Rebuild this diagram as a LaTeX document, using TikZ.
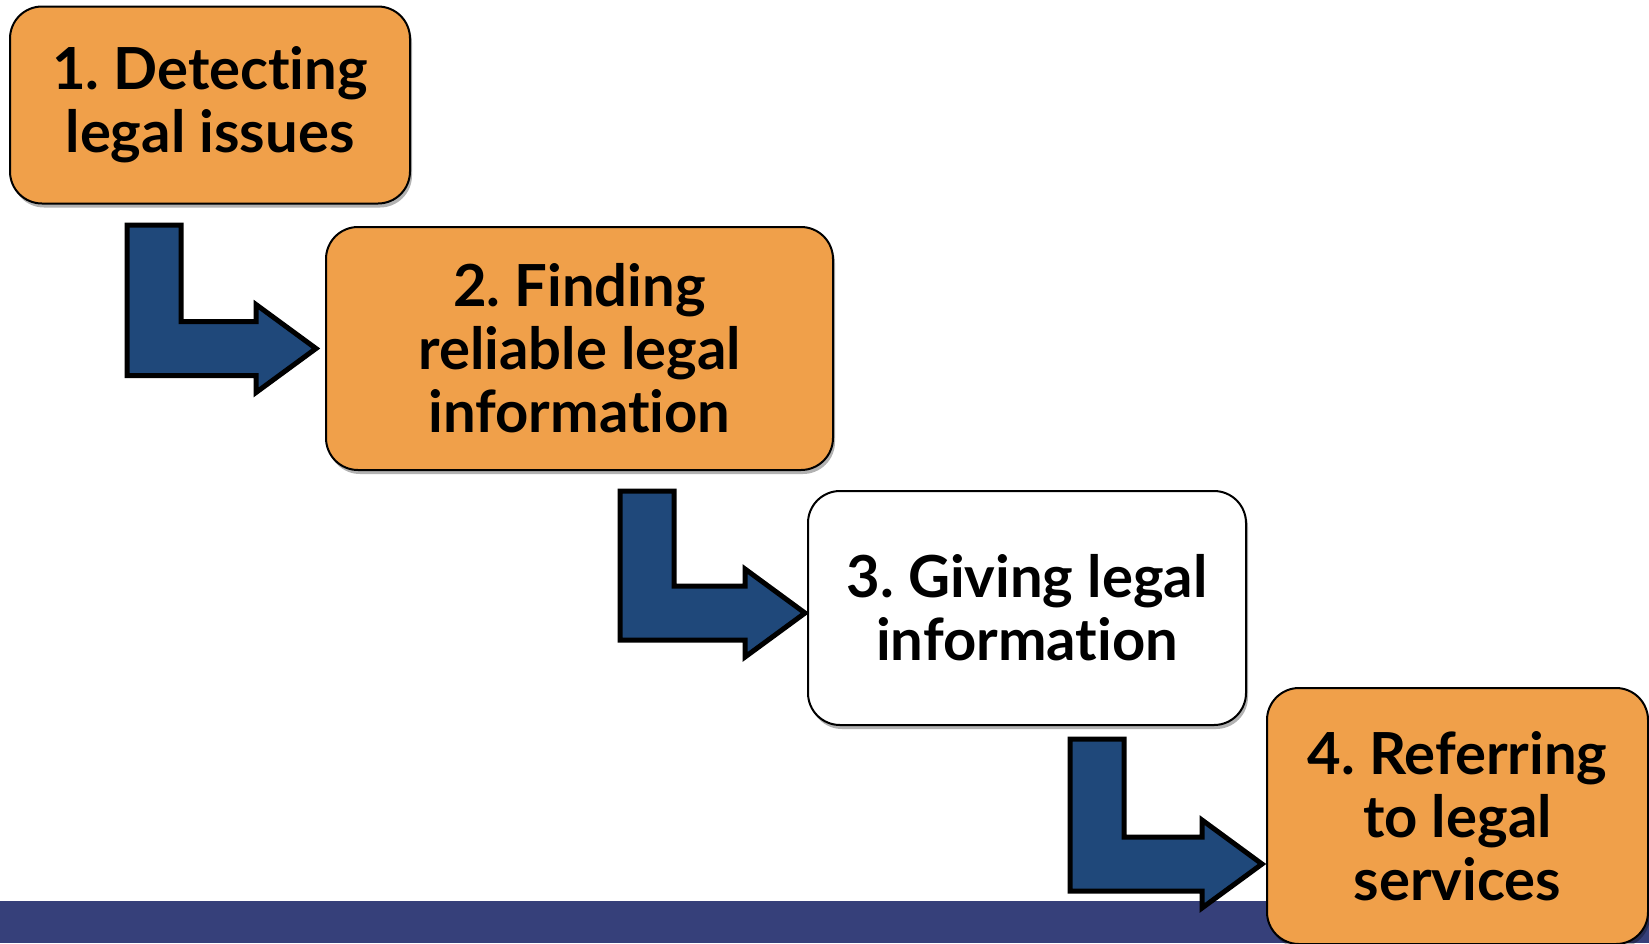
\documentclass[tikz,border=0pt]{standalone}
\usepackage{fontspec}
\setmainfont{Lato}[Ligatures={NoCommon}]
\frenchspacing
\usetikzlibrary{calc,shadows}
\definecolor{boxorange}{RGB}{240,160,74}
\definecolor{arrowblue}{RGB}{31,72,122}
\definecolor{barblue}{RGB}{54,64,122}
\tikzset{
  stepbox/.style={draw=black, line width=2pt, rounded corners=32pt, align=center,
    inner sep=0pt, font=\fontsize{58}{63}\selectfont\bfseries\frenchspacing,
    drop shadow={shadow xshift=2pt, shadow yshift=-4pt, opacity=0.3, fill=black}},
  orangebox/.style={stepbox, fill=boxorange},
  whitebox/.style={stepbox, fill=white},
  bentarrow/.style={draw=black, fill=arrowblue, line width=5pt, miter limit=10}
}
\newcommand{\bentarr}[2]{%
  \draw[bentarrow] let \p1=(#1), \p2=(#2) in
    (\x1,\y1) -- (\x1+54pt,\y1) -- (\x1+54pt,\y2+27pt) -- (\x2-60pt,\y2+27pt)
    -- (\x2-60pt,\y2+44pt) -- (\x2,\y2) -- (\x2-60pt,\y2-44pt)
    -- (\x2-60pt,\y2-27pt) -- (\x1,\y2-27pt) -- cycle;}
\begin{document}
\begin{tikzpicture}[x=1pt,y=-1pt]
\useasboundingbox (0,0) rectangle (1649,943);
\fill[white] (0,0) rectangle (1649,943);
% bottom bar
\fill[barblue] (0,901) rectangle (1649,943);
% boxes
\node[orangebox, minimum width=400pt, minimum height=197pt] (b1) at (210,105)
  {1. Detecting\\legal issues};
\node[orangebox, minimum width=507pt, minimum height=243pt] (b2) at (579.5,348.5)
  {2. Finding\\reliable legal\\information};
\node[whitebox, minimum width=438pt, minimum height=234pt] (b3) at (1027,608)
  {3. Giving legal\\information};
\node[orangebox, minimum width=381pt, minimum height=256pt] (b4) at (1457.5,816)
  {4. Referring\\to legal\\services};
% connector coordinates
\coordinate (s1) at (127,225);
\coordinate (t1) at ([xshift=-9pt]b2.west);
\coordinate (s2) at (620,491);
\coordinate (t2) at ([xshift=-2pt,yshift=-5pt]b3.west);
\coordinate (s3) at (1070,739);
\coordinate (t3) at (1262,864);
\bentarr{s1}{t1}
\bentarr{s2}{t2}
\bentarr{s3}{t3}
\end{tikzpicture}
\end{document}
